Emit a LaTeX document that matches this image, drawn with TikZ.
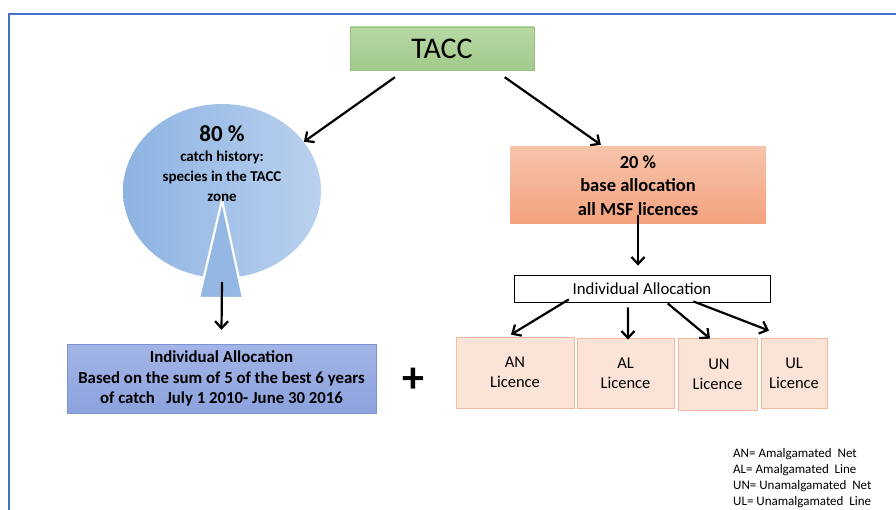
\documentclass[tikz,border=0pt]{standalone}
\usepackage{fontspec}
\setmainfont{Carlito}
\usetikzlibrary{shapes.geometric, arrows.meta, positioning, calc}
\definecolor{framecol}{HTML}{4472C4}
\definecolor{tacctop}{HTML}{B7D8A4}
\definecolor{taccbot}{HTML}{A2CA8B}
\definecolor{taccline}{HTML}{98C27F}
\definecolor{histleft}{HTML}{8DB3E2}
\definecolor{histright}{HTML}{BAD1EE}
\definecolor{wedgeblue}{HTML}{95B7E3}
\definecolor{indtop}{HTML}{A3B5E7}
\definecolor{indbot}{HTML}{8CA2DD}
\definecolor{indline}{HTML}{7E93D1}
\definecolor{basetop}{HTML}{F6C4AB}
\definecolor{basebot}{HTML}{F4A27E}
\definecolor{licfill}{HTML}{FBE4D7}
\definecolor{licline}{HTML}{F4B99C}

\begin{document}
\begin{tikzpicture}[x=1pt, y=-1pt,
    arr/.style={-{Straight Barb[length=7pt, width=13pt]}, line width=2.2pt},
    licbox/.style={draw=licline, fill=licfill, line width=0.8pt, align=center,
      inner sep=0pt, font=\fontsize{16.5}{20}\selectfont},
  ]
  \useasboundingbox (0,0) rectangle (896,510);
  % slide frame
  \draw[framecol, line width=1.4pt] (9,510) -- (9,14) -- (896,14);

  % top
  \node[draw=taccline, top color=tacctop, bottom color=taccbot, minimum width=184pt,
    minimum height=43pt, font=\fontsize{30}{34}\selectfont] (tacc) at (442,48.5) {TACC};

  % catch history part
  \node[ellipse, left color=histleft, right color=histright, minimum width=198pt,
    minimum height=174pt, inner sep=0pt] (catch) at (222,191) {};
  \draw[white, line width=2.2pt, fill=wedgeblue] (222,200) -- (199,298) -- (243,298) -- cycle;
  \coordinate (wedgeout) at (222,282);
  \node[align=center, font=\bfseries\fontsize{15}{20}\selectfont] (catchtxt) at (222,164) {
    {\fontsize{23}{23}\selectfont 80 \%}\\
    catch history:\\
    species in the TACC\\
    zone
  };

  \node[draw=indline, top color=indtop, bottom color=indbot, minimum width=309pt,
    minimum height=69pt, align=center, font=\bfseries\fontsize{16.8}{20.5}\selectfont]
    (hist) at (221.5,378.5) {
    Individual Allocation\\
    Based on the sum of 5 of the best 6 years\\
    of catch\ \ \ July 1 2010- June 30 2016
  };
  \node[font=\bfseries\fontsize{44}{44}\selectfont] (plus) at (413,380) {+};

  % base allocation part
  \node[top color=basetop, bottom color=basebot, minimum width=256pt, minimum height=77pt,
    align=center, font=\bfseries\fontsize{18.5}{23.5}\selectfont] (base) at (638,185.5) {
    20 \%\\
    base allocation\\
    all MSF licences
  };
  \node[draw=black, line width=0.8pt, minimum width=256pt, minimum height=27pt,
    font=\fontsize{16.8}{18}\selectfont] (indiv) at (642,288.5) {Individual Allocation};

  \node[licbox, minimum width=118pt, minimum height=71pt] (an) at (515,372.5) {AN\\Licence};
  \node[licbox, minimum width=97pt, minimum height=70pt] (al) at (625.5,373) {AL\\Licence};
  \node[licbox, minimum width=79pt, minimum height=72pt] (un) at (717.5,374) {\,UN\\Licence};
  \node[licbox, minimum width=66pt, minimum height=70pt] (ul) at (794,373) {UL\\Licence};

  % connectors
  \draw[arr] ([yshift=-7pt]$(tacc.south west)!0.245!(tacc.south east)$) -- (catch.31);
  \draw[arr] ([yshift=-7pt]$(tacc.south west)!0.84!(tacc.south east)$)
    -- ([yshift=2pt]$(base.north west)!0.355!(base.north east)$);
  \draw[arr] (wedgeout) -- ([yshift=14pt]hist.north);
  \draw[arr] ([yshift=9pt]base.south) -- ([yshift=9pt]base.south |- indiv.north);
  \draw[arr] ([yshift=3pt]$(indiv.south west)!0.215!(indiv.south east)$) -- ([xshift=-4pt,yshift=2pt]an.north);
  \draw[arr] ([yshift=-5pt]$(indiv.south west)!0.445!(indiv.south east)$) -- ([xshift=2.5pt,yshift=-2pt]al.north);
  \draw[arr] ([yshift=-1pt]$(indiv.south west)!0.6!(indiv.south east)$) -- ([xshift=-7.5pt,yshift=-1pt]un.north);
  \draw[arr] ([yshift=1pt]$(indiv.south west)!0.7!(indiv.south east)$) -- ([xshift=-25pt,yshift=7pt]ul.north);

  % legend
  \node[anchor=north west, align=left, inner sep=0pt, font=\fontsize{13}{16}\selectfont]
    (legend) at (733,448) {
    AN= Amalgamated\ \ Net\\
    AL= Amalgamated\ \ Line\\
    UN= Unamalgamated\ \ Net\\
    UL= Unamalgamated\ \ Line
  };
\end{tikzpicture}
\end{document}
